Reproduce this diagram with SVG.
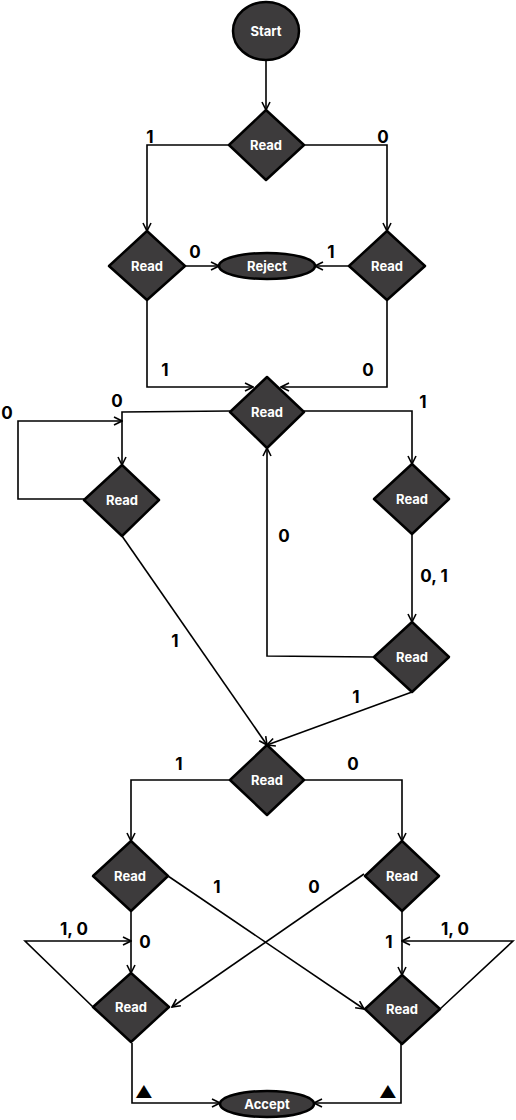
<svg xmlns="http://www.w3.org/2000/svg" width="516" height="1120" viewBox="0 0 516 1120">
<defs>
<marker id="arr" viewBox="0 0 10 10" refX="9" refY="5" markerWidth="10" markerHeight="10" orient="auto" markerUnits="userSpaceOnUse">
<path d="M1,1 L9,5 L1,9" fill="none" stroke="#000" stroke-width="1.6"/>
</marker>
<style>
.n{fill:#3d3b3c;stroke:#000;stroke-width:2.5;stroke-linejoin:round}
.t{fill:#fff;font-family:Inter,"Open Sans",sans-serif;font-weight:700;font-size:13px;text-anchor:middle}
.c{fill:none;stroke:#000;stroke-width:1.6;marker-end:url(#arr)}
.l{fill:#000;font-family:Inter,"Open Sans",sans-serif;font-weight:700;font-size:17px;text-anchor:middle}
</style>
</defs>
<rect width="516" height="1120" fill="#fff"/>
<g id="connectors">
<path class="c" d="M266,60 V110"/>
<path class="c" d="M229,145 H147 V231"/>
<path class="c" d="M304,145 H387 V231"/>
<path class="c" d="M185,266 H219"/>
<path class="c" d="M349,266 H315"/>
<path class="c" d="M147,300 V387 H253"/>
<path class="c" d="M387,300 V387 H281"/>
<path class="c" d="M230,411 L122,412 V465"/>
<path class="c" d="M84,499 H18 V421 H122"/>
<path class="c" d="M304,411 H412 V464"/>
<path class="c" d="M412,534 V622"/>
<path class="c" d="M374,657 L267,656 V448"/>
<path class="c" d="M412,692 L267,745"/>
<path class="c" d="M122,536 L267,745"/>
<path class="c" d="M230,780 H131 V841"/>
<path class="c" d="M304,780 H402 V841"/>
<path class="c" d="M131,911 V973"/>
<path class="c" d="M402,911 V975"/>
<path class="c" d="M168,876 L364,1009"/>
<path class="c" d="M364,874 L172,1007"/>
<path class="c" d="M93,1007 L25,941 H131"/>
<path class="c" d="M440,1009 L513,941 H402"/>
<path class="c" d="M132,1043 V1103 H220"/>
<path class="c" d="M401,1044 V1103 H314"/>
<text class="l" x="150" y="143">1</text>
<text class="l" x="383" y="143">0</text>
<text class="l" x="195" y="258">0</text>
<text class="l" x="331" y="258">1</text>
<text class="l" x="165" y="376">1</text>
<text class="l" x="368" y="376">0</text>
<text class="l" x="117" y="407">0</text>
<text class="l" x="7" y="419">0</text>
<text class="l" x="423" y="408">1</text>
<text class="l" x="284" y="542">0</text>
<text class="l" x="434" y="582">0, 1</text>
<text class="l" x="175" y="647">1</text>
<text class="l" x="356" y="703">1</text>
<text class="l" x="179" y="770">1</text>
<text class="l" x="353" y="770">0</text>
<text class="l" x="217" y="893">1</text>
<text class="l" x="314" y="893">0</text>
<text class="l" x="74" y="935">1, 0</text>
<text class="l" x="455" y="935">1, 0</text>
<text class="l" x="145" y="948">0</text>
<text class="l" x="389" y="948">1</text>
<text class="l" x="144" y="1098" font-size="15">▲</text>
<text class="l" x="388" y="1098" font-size="15">▲</text>
</g>
<g id="start"><ellipse class="n" cx="266" cy="31" rx="33" ry="29"/><text class="t" x="266" y="36" font-size="14">Start</text></g>
<g id="read1"><polygon class="n" points="266,110 304,145 266,180 229,145"/><text class="t" x="266" y="150">Read</text></g>
<g id="readL1"><polygon class="n" points="147,231 185,266 147,300 109,266"/><text class="t" x="147" y="271">Read</text></g>
<g id="readR1"><polygon class="n" points="387,231 425,266 387,300 349,266"/><text class="t" x="387" y="271">Read</text></g>
<g id="reject"><ellipse class="n" cx="267" cy="266" rx="48" ry="13"/><text class="t" x="267" y="271" font-size="14">Reject</text></g>
<g id="read2"><polygon class="n" points="267,377 304,412 267,448 230,412"/><text class="t" x="267" y="417">Read</text></g>
<g id="readL2"><polygon class="n" points="122,465 159,500 122,536 84,500"/><text class="t" x="122" y="505">Read</text></g>
<g id="readR2"><polygon class="n" points="412,464 449,499 412,534 374,499"/><text class="t" x="412" y="504">Read</text></g>
<g id="readR3"><polygon class="n" points="412,622 449,657 412,692 374,657"/><text class="t" x="412" y="662">Read</text></g>
<g id="read3"><polygon class="n" points="267,745 304,780 267,815 230,780"/><text class="t" x="267" y="785">Read</text></g>
<g id="readBL1"><polygon class="n" points="131,841 168,876 131,911 93,876"/><text class="t" x="130" y="881">Read</text></g>
<g id="readBR1"><polygon class="n" points="402,841 439,876 402,911 365,876"/><text class="t" x="402" y="881">Read</text></g>
<g id="readBL2"><polygon class="n" points="131,973 169,1007 131,1042 93,1007"/><text class="t" x="131" y="1012">Read</text></g>
<g id="readBR2"><polygon class="n" points="402,975 440,1009 402,1044 365,1009"/><text class="t" x="402" y="1014">Read</text></g>
<g id="accept"><ellipse class="n" cx="267" cy="1104" rx="47" ry="13"/><text class="t" x="267" y="1109" font-size="15">Accept</text></g>
</svg>
